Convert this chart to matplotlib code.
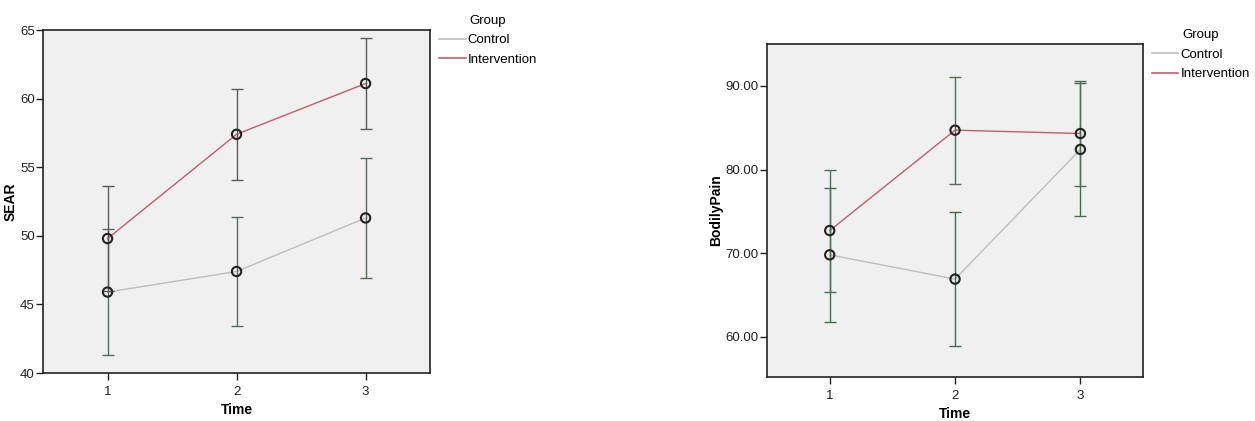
import numpy as np
import matplotlib
matplotlib.use("Agg")
import matplotlib.pyplot as plt
from matplotlib.lines import Line2D

plt.rcParams['font.family'] = ['Liberation Sans', 'DejaVu Sans']

# data
time = [1, 2, 3]
groups = ["Control", "Intervention"]

sear_control = [45.9, 47.4, 51.3]
sear_control_err = [4.6, 4.0, 4.4]
sear_interv = [49.8, 57.4, 61.1]
sear_interv_err = [3.8, 3.3, 3.3]

pain_control = [69.8, 66.9, 82.4]
pain_control_err = [8.0, 8.0, 7.9]
pain_interv = [72.7, 84.7, 84.3]
pain_interv_err = [7.3, 6.4, 6.3]

ctrl_color = "#bdbdbd"
int_color = "#c45c70"
bg = "#f0f0f0"

fig = plt.figure(figsize=(12.55, 4.21), dpi=100)


def panel(ax, c, ce, i, ie, ylabel, ylim, yticks, fmt, bar_colors):
    ax.set_facecolor(bg)
    ax.plot(time, c, color=ctrl_color, lw=1.0, zorder=2)
    ax.plot(time, i, color=int_color, lw=1.0, zorder=2)
    ax.errorbar(time, c, yerr=ce, fmt="none", ecolor=bar_colors[0],
                elinewidth=1.0, capsize=4, capthick=1.0, zorder=3)
    ax.errorbar(time, i, yerr=ie, fmt="none", ecolor=bar_colors[1],
                elinewidth=1.0, capsize=4, capthick=1.0, zorder=3)
    ax.scatter(time, c, s=45, facecolors="none", edgecolors="#222222", lw=1.5, zorder=4)
    ax.scatter(time, i, s=45, facecolors="none", edgecolors="#222222", lw=1.5, zorder=4)
    ax.set_xlim(0.5, 3.5)
    ax.set_ylim(*ylim)
    ax.set_xticks(time)
    ax.set_yticks(yticks)
    ax.set_yticklabels([fmt.format(v) for v in yticks])
    ax.tick_params(labelsize=9.5, length=5, width=1, colors="#222222")
    ax.tick_params(axis="x", pad=4)
    ax.tick_params(axis="y", pad=1)
    for s in ax.spines.values():
        s.set_linewidth(1.2)
        s.set_color("#222222")
    ax.set_xlabel("Time", fontsize=10, fontweight="bold", labelpad=4)
    ax.set_ylabel(ylabel, fontsize=10, fontweight="bold", labelpad=2)


ax1 = fig.add_axes([0.0343, 0.114, 0.3084, 0.8147])
panel(ax1, sear_control, sear_control_err, sear_interv, sear_interv_err,
      "SEAR", (40, 65), [40, 45, 50, 55, 60, 65], "{:.0f}", ("#5a6a5e", "#5a5a5a"))

ax2 = fig.add_axes([0.6112, 0.1045, 0.2996, 0.791])
panel(ax2, pain_control, pain_control_err, pain_interv, pain_interv_err,
      "BodilyPain", (55.2, 95), [60, 70, 80, 90], "{:.2f}", ("#3f6f4a", "#4f6f58"))

handles = [Line2D([], [], color=ctrl_color, lw=1.2),
           Line2D([], [], color=int_color, lw=1.2)]
for x, y in [(0.350, 0.965), (0.918, 0.93)]:
    leg = fig.legend(handles, groups, title="Group", loc="upper left",
                     bbox_to_anchor=(x, y), frameon=False, fontsize=9.5,
                     title_fontsize=9.5, handlelength=2.0, handletextpad=0.15,
                     labelspacing=0.55, borderaxespad=0, borderpad=0)

fig.savefig("out.png", dpi=100)
